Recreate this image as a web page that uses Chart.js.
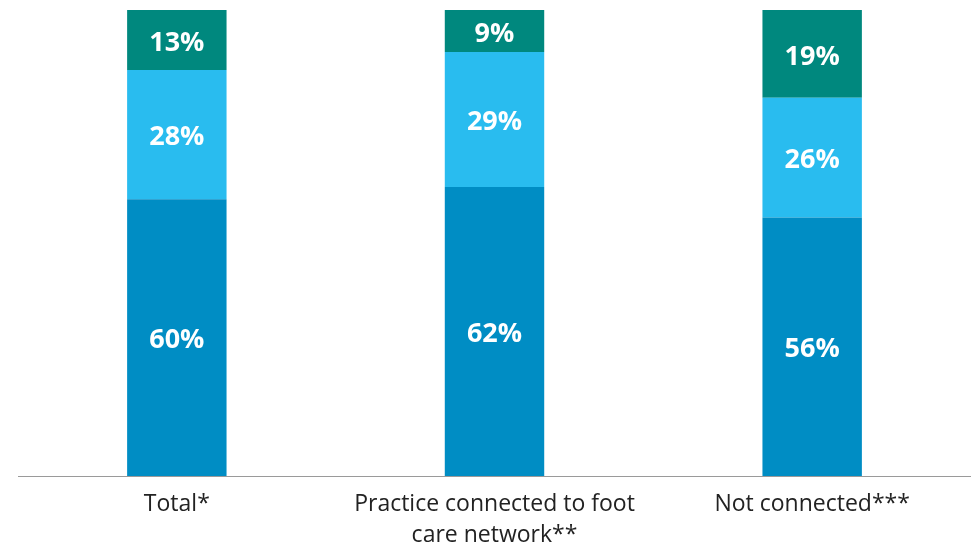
<!DOCTYPE html>
<html>
<head>
<meta charset="utf-8">
<script src="https://cdn.jsdelivr.net/npm/chart.js@4/dist/chart.umd.min.js"></script>
<style>
  html, body { margin: 0; padding: 0; background: #fff; }
  #wrap { width: 971px; height: 545px; }
</style>
</head>
<body>
<div id="wrap"><canvas id="myChart" width="971" height="545"></canvas></div>
<script>
const categories = ['Total*', ['Practice connected to foot', 'care network**'], 'Not connected***'];
const bottomValues = [60, 62, 56];
const middleValues = [28, 29, 26];
const topValues = [13, 9, 19];

// bars are drawn as share of the category total (100% stacked)
const totals = bottomValues.map((v, i) => v + middleValues[i] + topValues[i]);
const share = arr => arr.map((v, i) => v / totals[i] * 100);

const labelPlugin = {
    id: 'segmentLabels',
    afterDatasetsDraw(chart) {
        const ctx = chart.ctx;
        ctx.save();
        ctx.fillStyle = '#ffffff';
        ctx.font = 'bold 27px "Open Sans"';
        ctx.textAlign = 'center';
        ctx.textBaseline = 'middle';
        chart.data.datasets.forEach((ds, di) => {
            chart.getDatasetMeta(di).data.forEach((bar, i) => {
                const y = (bar.y + bar.base) / 2;
                ctx.fillText(ds.raw[i] + '%', bar.x, y + 3);
            });
        });
        ctx.restore();
    }
};

const ctx = document.getElementById('myChart').getContext('2d');
const myChart = new Chart(ctx, {
    type: 'bar',
    data: {
        labels: categories,
        datasets: [
            { data: share(bottomValues), raw: bottomValues, backgroundColor: '#008DC4' },
            { data: share(middleValues), raw: middleValues, backgroundColor: '#29BCEF' },
            { data: share(topValues), raw: topValues, backgroundColor: '#00887E' }
        ]
    },
    options: {
        responsive: false,
        animation: false,
        layout: { padding: { top: 10, left: 18, right: 0, bottom: 0 } },
        datasets: {
            bar: { barPercentage: 0.313, categoryPercentage: 1, borderWidth: 0 }
        },
        plugins: {
            legend: { display: false },
            tooltip: { enabled: false }
        },
        scales: {
            x: {
                stacked: true,
                grid: { display: false },
                border: { display: true, color: '#9a9a9a', width: 1 },
                ticks: {
                    color: '#222',
                    font: { family: '"Open Sans"', size: 23, lineHeight: 1.35 },
                    padding: 5,
                    maxRotation: 0,
                    autoSkip: false
                },
                afterFit(scale) { scale.height = 69; }
            },
            y: {
                stacked: true,
                display: false,
                min: 0,
                max: 100
            }
        }
    },
    plugins: [labelPlugin]
});
</script>
</body>
</html>
